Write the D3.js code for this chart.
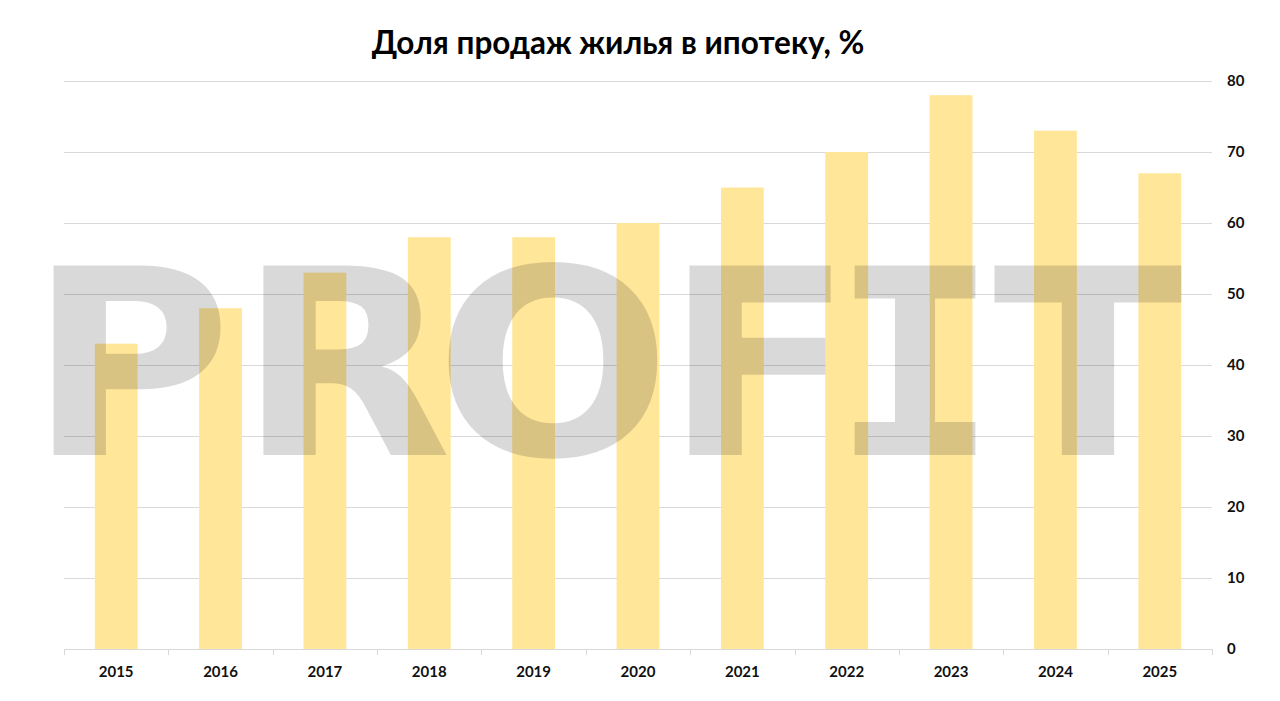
<!DOCTYPE html>
<html><head><meta charset="utf-8">
<script src="https://cdn.jsdelivr.net/npm/d3@7"></script>
<style>html,body{margin:0;padding:0;background:#fff;}svg{display:block;}</style>
</head><body>
<script>
const years = ["2015","2016","2017","2018","2019","2020","2021","2022","2023","2024","2025"];
const shares = [43, 48, 53, 58, 58, 60, 65, 70, 78, 73, 67];
const yTicks = [0, 10, 20, 30, 40, 50, 60, 70, 80];
const title = "Доля продаж жилья в ипотеку, %";
const watermarkLetters = ["P","R","O","F","I","T"];
const watermarkCenters = [130, 345, 553, 759, 915, 1088];

const W = 1280, H = 701;
const m = {left: 64, right: 1212, top: 81, bottom: 649};
const svg = d3.select("body").append("svg").attr("width", W).attr("height", H);

const x = d3.scaleBand().domain(years).range([m.left, m.right]).paddingInner(0.59).paddingOuter(0.295);
const xb = d3.scaleBand().domain(years).range([m.left, m.right]);
const y = d3.scaleLinear().domain([0, 80]).range([m.bottom, m.top]);

// gridlines
svg.append("g").selectAll("line").data(yTicks.filter(d => d > 0)).join("line")
  .attr("x1", m.left).attr("x2", m.right)
  .attr("y1", d => Math.round(y(d)) + 0.5).attr("y2", d => Math.round(y(d)) + 0.5)
  .attr("stroke", "#d9d9d9").attr("stroke-width", 1);

// bars
svg.append("g").selectAll("rect").data(years).join("rect")
  .attr("x", d => x(d)).attr("width", x.bandwidth())
  .attr("y", (d, i) => y(shares[i])).attr("height", (d, i) => y(0) - y(shares[i]))
  .attr("fill", "#ffe699");

// x axis line + ticks
const gx = svg.append("g");
gx.append("line").attr("x1", m.left).attr("x2", m.right)
  .attr("y1", m.bottom + 0.5).attr("y2", m.bottom + 0.5).attr("stroke", "#d9d9d9");
const bounds = years.map(d => xb(d)).concat([m.right]);
gx.selectAll("line.t").data(bounds).join("line").attr("class", "t")
  .attr("x1", d => Math.round(d) + 0.5).attr("x2", d => Math.round(d) + 0.5)
  .attr("y1", m.bottom).attr("y2", m.bottom + 6).attr("stroke", "#d9d9d9");
gx.selectAll("text").data(years).join("text")
  .attr("x", d => xb(d) + xb.bandwidth() / 2).attr("y", 677)
  .attr("text-anchor", "middle")
  .attr("font-family", "Lato, 'Open Sans', sans-serif").attr("font-weight", "bold")
  .attr("font-size", 15).attr("fill", "#111").text(d => d);

// y labels (right)
svg.append("g").selectAll("text").data(yTicks).join("text")
  .attr("x", 1227).attr("y", d => y(d) + 5)
  .attr("font-family", "Lato, 'Open Sans', sans-serif").attr("font-weight", "bold")
  .attr("font-size", 15).attr("fill", "#111").text(d => d);

// title
svg.append("text").attr("x", 618).attr("y", 54).attr("text-anchor", "middle")
  .attr("font-family", "Lato, 'Open Sans', sans-serif").attr("font-weight", "bold")
  .attr("font-size", 31.5).attr("fill", "#000").text(title);

// watermark (single text element, one tspan per letter)
const sx = 1.07;
const fSpacing = -32;
const wm = svg.append("text")
  .attr("transform", `translate(0,455) scale(${sx},1)`)
  .attr("fill", "#000").attr("fill-opacity", 0.15)
  .attr("font-family", "'DejaVu Sans', sans-serif")
  .attr("font-weight", "bold").attr("font-size", 260)
  .attr("text-anchor", "middle");
wm.selectAll("tspan").data(watermarkLetters).join("tspan")
  .attr("x", (d, i) => watermarkCenters[i] / sx + (d === "F" ? fSpacing / 2 : 0)).attr("y", 0)
  .attr("letter-spacing", d => d === "F" ? fSpacing : 0)
  .attr("font-family", d => d === "I" ? "'DejaVu Sans Mono', monospace" : "'DejaVu Sans', sans-serif")
  .text(d => d);
</script>
</body></html>
